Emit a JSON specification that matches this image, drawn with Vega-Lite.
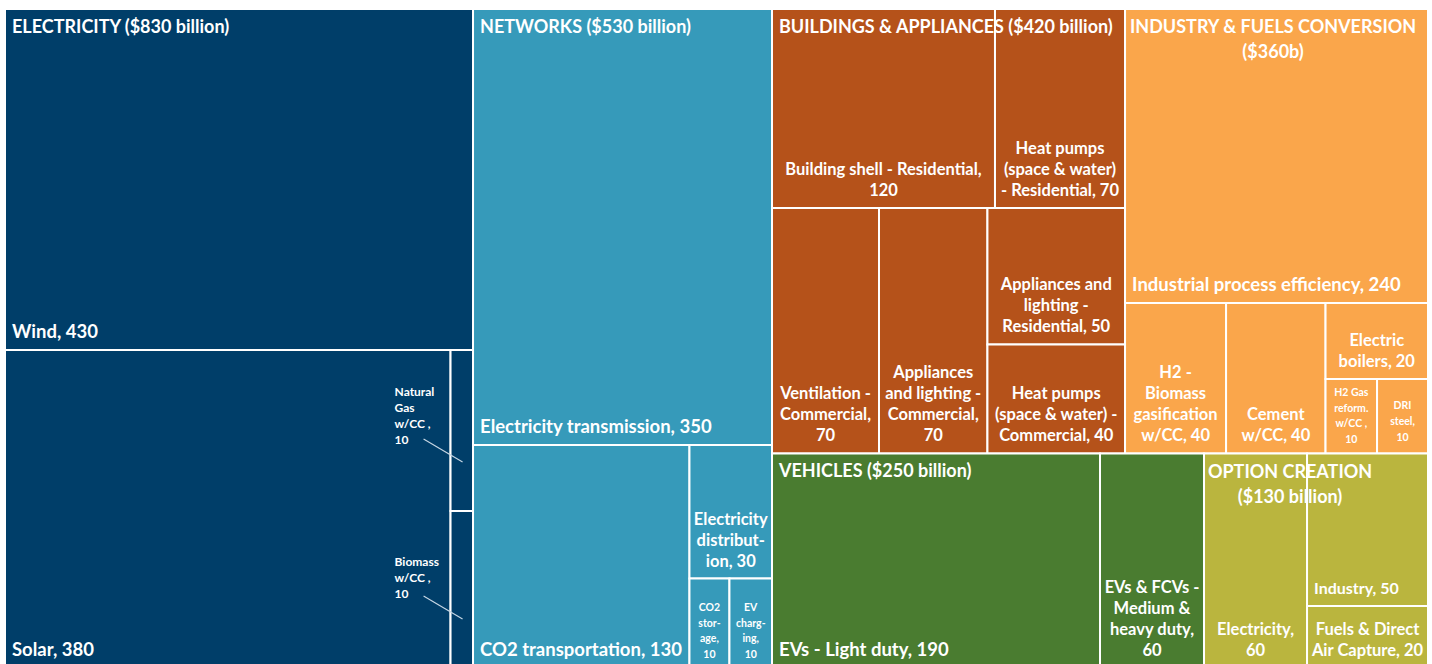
{
  "$schema": "https://vega.github.io/schema/vega-lite/v6.json",
  "width": 1423,
  "height": 659,
  "autosize": {"type": "none"},
  "padding": {"left": 5, "top": 9, "right": 4, "bottom": 0},
  "background": "#ffffff",
  "config": {"view": {"stroke": null}, "text": {"font": "Lato", "fontWeight": "bold", "color": "#ffffff", "lineBreak": "\n"}},
  "datasets": {
    "leaves": [
      {"group": "Electricity", "label": "Wind, 430", "value": 430, "x0": 0, "x1": 32.89, "y0": 0, "y1": 51.75},
      {"group": "Electricity", "label": "Solar, 380", "value": 380, "x0": 0, "x1": 31.31, "y0": 51.75, "y1": 100},
      {"group": "Electricity", "label": "Natural\nGas\nw/CC ,\n10", "value": 10, "x0": 31.31, "x1": 32.89, "y0": 51.75, "y1": 76.18},
      {"group": "Electricity", "label": "Biomass\nw/CC ,\n10", "value": 10, "x0": 31.31, "x1": 32.89, "y0": 76.18, "y1": 100},
      {"group": "Networks", "label": "Electricity transmission, 350", "value": 350, "x0": 32.89, "x1": 53.9, "y0": 0, "y1": 66.16},
      {"group": "Networks", "label": "CO2 transportation, 130", "value": 130, "x0": 32.89, "x1": 48.1, "y0": 66.16, "y1": 100},
      {"group": "Networks", "label": "Electricity\ndistribut-\nion, 30", "value": 30, "x0": 48.1, "x1": 53.9, "y0": 66.16, "y1": 86.42},
      {"group": "Networks", "label": "CO2\nstor-\nage,\n10", "value": 10, "x0": 48.1, "x1": 50.91, "y0": 86.42, "y1": 100},
      {"group": "Networks", "label": "EV\ncharg-\ning,\n10", "value": 10, "x0": 50.91, "x1": 53.9, "y0": 86.42, "y1": 100},
      {"group": "Buildings", "label": "Building shell - Residential,\n120", "value": 120, "x0": 53.9, "x1": 69.57, "y0": 0, "y1": 30.2},
      {"group": "Buildings", "label": "Heat pumps\n(space & water)\n- Residential, 70", "value": 70, "x0": 69.57, "x1": 78.71, "y0": 0, "y1": 30.2},
      {"group": "Buildings", "label": "Ventilation -\nCommercial,\n70", "value": 70, "x0": 53.9, "x1": 61.42, "y0": 30.2, "y1": 67.45},
      {"group": "Buildings", "label": "Appliances\nand lighting -\nCommercial,\n70", "value": 70, "x0": 61.42, "x1": 69.04, "y0": 30.2, "y1": 67.45},
      {"group": "Buildings", "label": "Appliances and\nlighting -\nResidential, 50", "value": 50, "x0": 69.04, "x1": 78.71, "y0": 30.2, "y1": 50.91},
      {"group": "Buildings", "label": "Heat pumps\n(space & water) -\nCommercial, 40", "value": 40, "x0": 69.04, "x1": 78.71, "y0": 50.91, "y1": 67.45},
      {"group": "Industry", "label": "Industrial process efficiency, 240", "value": 240, "x0": 78.71, "x1": 100, "y0": 0, "y1": 44.61},
      {"group": "Industry", "label": "H2 -\nBiomass\ngasification\nw/CC, 40", "value": 40, "x0": 78.71, "x1": 85.81, "y0": 44.61, "y1": 67.45},
      {"group": "Industry", "label": "Cement\nw/CC, 40", "value": 40, "x0": 85.81, "x1": 92.8, "y0": 44.61, "y1": 67.45},
      {"group": "Industry", "label": "Electric\nboilers, 20", "value": 20, "x0": 92.8, "x1": 100, "y0": 44.61, "y1": 56.15},
      {"group": "Industry", "label": "H2 Gas\nreform.\nw/CC ,\n10", "value": 10, "x0": 92.8, "x1": 96.42, "y0": 56.15, "y1": 67.45},
      {"group": "Industry", "label": "DRI\nsteel,\n10", "value": 10, "x0": 96.42, "x1": 100, "y0": 56.15, "y1": 67.45},
      {"group": "Vehicles", "label": "EVs - Light duty, 190", "value": 190, "x0": 53.9, "x1": 76.95, "y0": 67.45, "y1": 100},
      {"group": "Vehicles", "label": "EVs & FCVs -\nMedium &\nheavy duty,\n60", "value": 60, "x0": 76.95, "x1": 84.26, "y0": 67.45, "y1": 100},
      {"group": "Option", "label": "Electricity,\n60", "value": 60, "x0": 84.26, "x1": 91.5, "y0": 67.45, "y1": 100},
      {"group": "Option", "label": "Industry, 50", "value": 50, "x0": 91.5, "x1": 100, "y0": 67.45, "y1": 90.59},
      {"group": "Option", "label": "Fuels & Direct\nAir Capture, 20", "value": 20, "x0": 91.5, "x1": 100, "y0": 90.59, "y1": 100}
    ],
    "groups": [
      {"group": "Electricity", "title": "ELECTRICITY ($830 billion)", "value": 830, "x0": 0, "x1": 32.89, "y0": 0, "y1": 100},
      {"group": "Networks", "title": "NETWORKS ($530 billion)", "value": 530, "x0": 32.89, "x1": 53.9, "y0": 0, "y1": 100},
      {"group": "Buildings", "title": "BUILDINGS & APPLIANCES ($420 billion)", "value": 420, "x0": 53.9, "x1": 78.71, "y0": 0, "y1": 67.45},
      {"group": "Industry", "title": "INDUSTRY & FUELS CONVERSION\n($360b)", "value": 360, "x0": 78.71, "x1": 100, "y0": 0, "y1": 67.45},
      {"group": "Vehicles", "title": "VEHICLES ($250 billion)", "value": 250, "x0": 53.9, "x1": 84.26, "y0": 67.45, "y1": 100},
      {"group": "Option", "title": "OPTION CREATION\n($130 billion)", "value": 130, "x0": 84.26, "x1": 100, "y0": 67.45, "y1": 100}
    ]
  },
  "layer": [
    {
      "data": {"name": "leaves"},
      "mark": {"type": "rect", "stroke": "#ffffff", "strokeWidth": 2},
      "encoding": {
        "x": {"field": "x0", "type": "quantitative", "scale": {"domain": [0, 100], "nice": false, "zero": false}, "axis": null},
        "x2": {"field": "x1"},
        "y": {"field": "y0", "type": "quantitative", "scale": {"domain": [0, 100], "nice": false, "zero": false, "reverse": true}, "axis": null},
        "y2": {"field": "y1"},
        "color": {
          "field": "group", "type": "nominal", "legend": null,
          "scale": {"domain": ["Electricity", "Networks", "Buildings", "Industry", "Vehicles", "Option"],
                    "range": ["#003e69", "#369aba", "#b5521a", "#faa64b", "#4a7c30", "#bab53e"]}
        },
        "tooltip": [{"field": "group"}, {"field": "label"}, {"field": "value", "type": "quantitative"}]
      }
    },
    {
      "data": {"name": "leaves"},
      "transform": [{"filter": {"field": "label", "oneOf": ["Natural\nGas\nw/CC ,\n10", "Biomass\nw/CC ,\n10"]}}],
      "mark": {"type": "rule", "color": "#c5d6e4", "strokeWidth": 1.2, "xOffset": -27, "x2Offset": 12, "yOffset": -72, "y2Offset": -49},
      "encoding": {
        "x": {"field": "x0", "type": "quantitative", "scale": {"domain": [0, 100], "nice": false, "zero": false}, "axis": null},
        "x2": {"field": "x0"},
        "y": {"field": "y1", "type": "quantitative", "scale": {"domain": [0, 100], "nice": false, "zero": false, "reverse": true}, "axis": null},
        "y2": {"field": "y1"}
      }
    },
    {
      "data": {"name": "leaves"},
      "transform": [{"filter": {"field": "label", "oneOf": ["Wind, 430", "Solar, 380", "Electricity transmission, 350", "CO2 transportation, 130", "Industrial process efficiency, 240", "EVs - Light duty, 190"]}}],
      "mark": {"type": "text", "align": "left", "baseline": "alphabetic", "dx": 7, "dy": -12, "fontSize": 18.5},
      "encoding": {
        "x": {"field": "x0", "type": "quantitative", "scale": {"domain": [0, 100], "nice": false, "zero": false}, "axis": null},
        "y": {"field": "y1", "type": "quantitative", "scale": {"domain": [0, 100], "nice": false, "zero": false, "reverse": true}, "axis": null},
        "text": {"field": "label"}
      }
    },
    {
      "data": {"name": "leaves"},
      "transform": [{"filter": {"field": "label", "oneOf": ["Industry, 50"]}}],
      "mark": {"type": "text", "align": "left", "baseline": "alphabetic", "dx": 7, "dy": -12, "fontSize": 16},
      "encoding": {
        "x": {"field": "x0", "type": "quantitative", "scale": {"domain": [0, 100], "nice": false, "zero": false}, "axis": null},
        "y": {"field": "y1", "type": "quantitative", "scale": {"domain": [0, 100], "nice": false, "zero": false, "reverse": true}, "axis": null},
        "text": {"field": "label"}
      }
    },
    {
      "data": {"name": "leaves"},
      "transform": [
        {"filter": {"field": "label", "oneOf": ["Building shell - Residential,\n120", "Cement\nw/CC, 40", "Electric\nboilers, 20", "Electricity,\n60", "Fuels & Direct\nAir Capture, 20"]}},
        {"calculate": "(datum.x0 + datum.x1) / 2", "as": "xm"}
      ],
      "mark": {"type": "text", "align": "center", "baseline": "alphabetic", "dy": -33, "fontSize": 16.5, "lineHeight": 21},
      "encoding": {
        "x": {"field": "xm", "type": "quantitative", "scale": {"domain": [0, 100], "nice": false, "zero": false}, "axis": null},
        "y": {"field": "y1", "type": "quantitative", "scale": {"domain": [0, 100], "nice": false, "zero": false, "reverse": true}, "axis": null},
        "text": {"field": "label"}
      }
    },
    {
      "data": {"name": "leaves"},
      "transform": [
        {"filter": {"field": "label", "oneOf": ["Electricity\ndistribut-\nion, 30", "Heat pumps\n(space & water)\n- Residential, 70", "Ventilation -\nCommercial,\n70", "Appliances and\nlighting -\nResidential, 50", "Heat pumps\n(space & water) -\nCommercial, 40"]}},
        {"calculate": "(datum.x0 + datum.x1) / 2", "as": "xm"}
      ],
      "mark": {"type": "text", "align": "center", "baseline": "alphabetic", "dy": -54, "fontSize": 16.5, "lineHeight": 21},
      "encoding": {
        "x": {"field": "xm", "type": "quantitative", "scale": {"domain": [0, 100], "nice": false, "zero": false}, "axis": null},
        "y": {"field": "y1", "type": "quantitative", "scale": {"domain": [0, 100], "nice": false, "zero": false, "reverse": true}, "axis": null},
        "text": {"field": "label"}
      }
    },
    {
      "data": {"name": "leaves"},
      "transform": [
        {"filter": {"field": "label", "oneOf": ["Appliances\nand lighting -\nCommercial,\n70", "H2 -\nBiomass\ngasification\nw/CC, 40", "EVs & FCVs -\nMedium &\nheavy duty,\n60"]}},
        {"calculate": "(datum.x0 + datum.x1) / 2", "as": "xm"}
      ],
      "mark": {"type": "text", "align": "center", "baseline": "alphabetic", "dy": -75, "fontSize": 16.5, "lineHeight": 21},
      "encoding": {
        "x": {"field": "xm", "type": "quantitative", "scale": {"domain": [0, 100], "nice": false, "zero": false}, "axis": null},
        "y": {"field": "y1", "type": "quantitative", "scale": {"domain": [0, 100], "nice": false, "zero": false, "reverse": true}, "axis": null},
        "text": {"field": "label"}
      }
    },
    {
      "data": {"name": "leaves"},
      "transform": [
        {"filter": {"field": "label", "oneOf": ["CO2\nstor-\nage,\n10", "EV\ncharg-\ning,\n10", "H2 Gas\nreform.\nw/CC ,\n10"]}},
        {"calculate": "(datum.x0 + datum.x1) / 2", "as": "xm"}
      ],
      "mark": {"type": "text", "align": "center", "baseline": "alphabetic", "dy": -57, "fontSize": 10.5, "lineHeight": 15.5},
      "encoding": {
        "x": {"field": "xm", "type": "quantitative", "scale": {"domain": [0, 100], "nice": false, "zero": false}, "axis": null},
        "y": {"field": "y1", "type": "quantitative", "scale": {"domain": [0, 100], "nice": false, "zero": false, "reverse": true}, "axis": null},
        "text": {"field": "label"}
      }
    },
    {
      "data": {"name": "leaves"},
      "transform": [
        {"filter": {"field": "label", "oneOf": ["DRI\nsteel,\n10"]}},
        {"calculate": "(datum.x0 + datum.x1) / 2", "as": "xm"}
      ],
      "mark": {"type": "text", "align": "center", "baseline": "alphabetic", "dy": -44, "fontSize": 10.5, "lineHeight": 16},
      "encoding": {
        "x": {"field": "xm", "type": "quantitative", "scale": {"domain": [0, 100], "nice": false, "zero": false}, "axis": null},
        "y": {"field": "y1", "type": "quantitative", "scale": {"domain": [0, 100], "nice": false, "zero": false, "reverse": true}, "axis": null},
        "text": {"field": "label"}
      }
    },
    {
      "data": {"name": "leaves"},
      "transform": [{"filter": {"field": "label", "oneOf": ["Natural\nGas\nw/CC ,\n10"]}}],
      "mark": {"type": "text", "align": "left", "baseline": "alphabetic", "dx": -56, "dy": -115, "fontSize": 12, "lineHeight": 16},
      "encoding": {
        "x": {"field": "x0", "type": "quantitative", "scale": {"domain": [0, 100], "nice": false, "zero": false}, "axis": null},
        "y": {"field": "y1", "type": "quantitative", "scale": {"domain": [0, 100], "nice": false, "zero": false, "reverse": true}, "axis": null},
        "text": {"field": "label"}
      }
    },
    {
      "data": {"name": "leaves"},
      "transform": [{"filter": {"field": "label", "oneOf": ["Biomass\nw/CC ,\n10"]}}],
      "mark": {"type": "text", "align": "left", "baseline": "alphabetic", "dx": -56, "dy": -102, "fontSize": 12, "lineHeight": 16},
      "encoding": {
        "x": {"field": "x0", "type": "quantitative", "scale": {"domain": [0, 100], "nice": false, "zero": false}, "axis": null},
        "y": {"field": "y1", "type": "quantitative", "scale": {"domain": [0, 100], "nice": false, "zero": false, "reverse": true}, "axis": null},
        "text": {"field": "label"}
      }
    },
    {
      "data": {"name": "groups"},
      "transform": [{"filter": {"field": "group", "oneOf": ["Electricity", "Networks", "Buildings", "Vehicles"]}}],
      "mark": {"type": "text", "align": "left", "baseline": "alphabetic", "dx": 7, "dy": 24, "fontSize": 18},
      "encoding": {
        "x": {"field": "x0", "type": "quantitative", "scale": {"domain": [0, 100], "nice": false, "zero": false}, "axis": null},
        "y": {"field": "y0", "type": "quantitative", "scale": {"domain": [0, 100], "nice": false, "zero": false, "reverse": true}, "axis": null},
        "text": {"field": "title"}
      }
    },
    {
      "data": {"name": "groups"},
      "transform": [{"filter": {"field": "group", "oneOf": ["Industry"]}}],
      "mark": {"type": "text", "align": "center", "baseline": "alphabetic", "dx": 148, "dy": 24, "fontSize": 18, "lineHeight": 25},
      "encoding": {
        "x": {"field": "x0", "type": "quantitative", "scale": {"domain": [0, 100], "nice": false, "zero": false}, "axis": null},
        "y": {"field": "y0", "type": "quantitative", "scale": {"domain": [0, 100], "nice": false, "zero": false, "reverse": true}, "axis": null},
        "text": {"field": "title"}
      }
    },
    {
      "data": {"name": "groups"},
      "transform": [{"filter": {"field": "group", "oneOf": ["Option"]}}],
      "mark": {"type": "text", "align": "center", "baseline": "alphabetic", "dx": 86, "dy": 25, "fontSize": 18, "lineHeight": 25},
      "encoding": {
        "x": {"field": "x0", "type": "quantitative", "scale": {"domain": [0, 100], "nice": false, "zero": false}, "axis": null},
        "y": {"field": "y0", "type": "quantitative", "scale": {"domain": [0, 100], "nice": false, "zero": false, "reverse": true}, "axis": null},
        "text": {"field": "title"}
      }
    }
  ]
}
